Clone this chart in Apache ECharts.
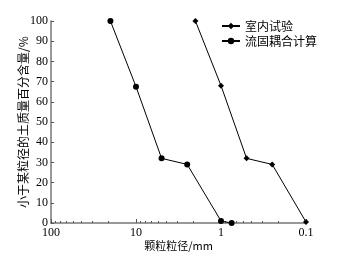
<!DOCTYPE html>
<html><head><meta charset="utf-8">
<script src="https://cdn.jsdelivr.net/npm/echarts@6/dist/echarts.min.js"></script>
<style>html,body{margin:0;padding:0;background:#fff}#c{width:344px;height:261px}</style>
</head><body><div id="c"></div>
<script>
const seriesNames = ['室内试验', '流固耦合计算'];
const labTestSize = [2, 1, 0.5, 0.25, 0.1];
const labTestPct = [100, 68, 32, 29, 0.5];
const calcSize = [20, 10, 5, 2.5, 1, 0.75];
const calcPct = [100, 67.5, 32, 29, 1, 0];
const xTickLabels = {100: '100', 10: '10', 1: '1', 0.1: '0.1'};
const yTicks = [0, 10, 20, 30, 40, 50, 60, 70, 80, 90, 100];

const numFont = '"Liberation Serif", "Noto Sans CJK SC", serif';
const cjkFont = '"Noto Sans CJK SC", sans-serif';
const chart = echarts.init(document.getElementById('c'));
chart.setOption({
  animation: false,
  backgroundColor: '#fff',
  grid: {left: 51, right: 38, top: 21, bottom: 38},
  legend: {
    left: 216, top: 15, orient: 'vertical', itemGap: 3, itemWidth: 18, itemHeight: 8,
    textStyle: {fontFamily: cjkFont, fontSize: 12, color: '#000'},
    data: seriesNames
  },
  xAxis: {
    type: 'log', logBase: 10, min: 0.1, max: 100, inverse: true,
    name: '颗粒粒径/mm', nameLocation: 'middle', nameGap: 17, nameMoveOverlap: false,
    nameTextStyle: {fontFamily: cjkFont, fontSize: 11, color: '#000'},
    axisLine: {lineStyle: {color: '#777', width: 1.5}},
    axisTick: {show: true, inside: true, length: 4, lineStyle: {color: '#555'}},
    minorTick: {show: true, splitNumber: 8, length: 2, lineStyle: {color: '#555'}},
    splitLine: {show: false},
    axisLabel: {fontFamily: numFont, fontSize: 12, color: '#000', margin: 4,
      formatter: v => xTickLabels[v] !== undefined ? xTickLabels[v] : ''}
  },
  yAxis: {
    type: 'value', min: 0, max: 100, interval: 10,
    name: '小于某粒径的土质量百分含量/%', nameLocation: 'middle', nameGap: 22, nameRotate: 90,
    nameMoveOverlap: false,
    nameTextStyle: {fontFamily: cjkFont, fontSize: 12, color: '#000'},
    axisLine: {show: true, lineStyle: {color: '#777', width: 1.5}},
    axisTick: {show: true, inside: true, length: 3, lineStyle: {color: '#555'}},
    splitLine: {show: false},
    axisLabel: {fontFamily: numFont, fontSize: 12, color: '#000', margin: 3,
      formatter: v => yTicks.includes(v) ? String(v) : ''}
  },
  series: [
    {name: seriesNames[0], type: 'line', symbol: 'diamond', symbolSize: 6,
     itemStyle: {color: '#000'}, lineStyle: {color: '#000', width: 1},
     data: labTestSize.map((s, i) => [s, labTestPct[i]])},
    {name: seriesNames[1], type: 'line', symbol: 'circle', symbolSize: 6,
     itemStyle: {color: '#000'}, lineStyle: {color: '#000', width: 1},
     data: calcSize.map((s, i) => [s, calcPct[i]])}
  ]
});
</script></body></html>
